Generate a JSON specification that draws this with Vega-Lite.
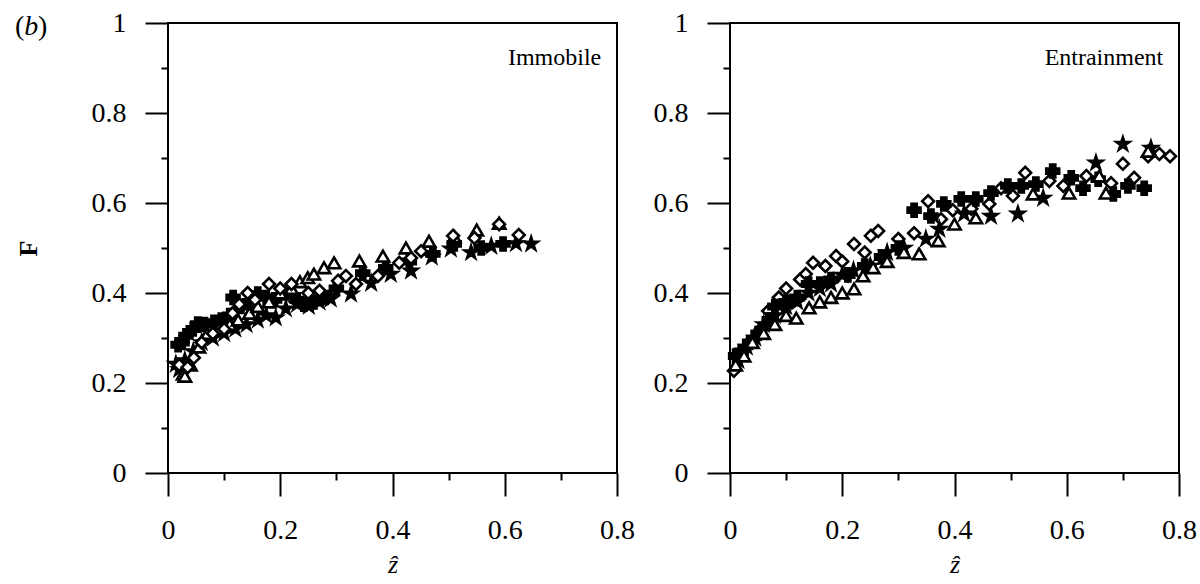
{
  "$schema": "https://vega.github.io/schema/vega-lite/v6.json",
  "background": "white",
  "padding": {"left": 14, "top": 8, "right": 2, "bottom": 0},
  "autosize": {"type": "pad"},
  "spacing": 113,
  "bounds": "flush",
  "config": {
    "view": {"stroke": "black", "strokeWidth": 2},
    "font": "Liberation Serif",
    "axis": {
      "domain": false,
      "grid": false,
      "tickColor": "black",
      "tickWidth": 2,
      "labelColor": "black",
      "labelFont": "Liberation Serif",
      "labelFontSize": 28,
      "labelFlush": false,
      "labelOverlap": false,
      "labelBound": false,
      "titleColor": "black",
      "titleFont": "Liberation Serif"
    }
  },
  "datasets": {
    "imm": [
      {"m": "plus", "z": 0.018, "F": 0.285}, {"m": "plus", "z": 0.025, "F": 0.29}, {"m": "plus", "z": 0.032, "F": 0.305}, {"m": "plus", "z": 0.045, "F": 0.32}, {"m": "plus", "z": 0.053, "F": 0.331}, {"m": "plus", "z": 0.065, "F": 0.33}, {"m": "plus", "z": 0.082, "F": 0.335}, {"m": "plus", "z": 0.095, "F": 0.34}, {"m": "plus", "z": 0.11, "F": 0.35}, {"m": "plus", "z": 0.116, "F": 0.39}, {"m": "plus", "z": 0.13, "F": 0.37}, {"m": "plus", "z": 0.145, "F": 0.38}, {"m": "plus", "z": 0.16, "F": 0.398}, {"m": "plus", "z": 0.175, "F": 0.39}, {"m": "plus", "z": 0.19, "F": 0.385}, {"m": "plus", "z": 0.21, "F": 0.40}, {"m": "plus", "z": 0.23, "F": 0.385}, {"m": "plus", "z": 0.242, "F": 0.375}, {"m": "plus", "z": 0.26, "F": 0.38}, {"m": "plus", "z": 0.28, "F": 0.39}, {"m": "plus", "z": 0.30, "F": 0.41}, {"m": "plus", "z": 0.347, "F": 0.444}, {"m": "plus", "z": 0.388, "F": 0.456}, {"m": "plus", "z": 0.43, "F": 0.47}, {"m": "plus", "z": 0.472, "F": 0.487}, {"m": "plus", "z": 0.51, "F": 0.509}, {"m": "plus", "z": 0.558, "F": 0.50}, {"m": "plus", "z": 0.597, "F": 0.509},
      {"m": "star", "z": 0.014, "F": 0.242}, {"m": "star", "z": 0.02, "F": 0.23}, {"m": "star", "z": 0.03, "F": 0.25}, {"m": "star", "z": 0.045, "F": 0.27}, {"m": "star", "z": 0.06, "F": 0.29}, {"m": "star", "z": 0.08, "F": 0.30}, {"m": "star", "z": 0.10, "F": 0.31}, {"m": "star", "z": 0.12, "F": 0.32}, {"m": "star", "z": 0.14, "F": 0.33}, {"m": "star", "z": 0.16, "F": 0.34}, {"m": "star", "z": 0.175, "F": 0.35}, {"m": "star", "z": 0.192, "F": 0.345}, {"m": "star", "z": 0.21, "F": 0.365}, {"m": "star", "z": 0.23, "F": 0.375}, {"m": "star", "z": 0.251, "F": 0.371}, {"m": "star", "z": 0.27, "F": 0.38}, {"m": "star", "z": 0.29, "F": 0.387}, {"m": "star", "z": 0.326, "F": 0.398}, {"m": "star", "z": 0.362, "F": 0.422}, {"m": "star", "z": 0.397, "F": 0.442}, {"m": "star", "z": 0.433, "F": 0.449}, {"m": "star", "z": 0.47, "F": 0.48}, {"m": "star", "z": 0.504, "F": 0.498}, {"m": "star", "z": 0.54, "F": 0.49}, {"m": "star", "z": 0.576, "F": 0.504}, {"m": "star", "z": 0.62, "F": 0.51}, {"m": "star", "z": 0.647, "F": 0.509},
      {"m": "triangle", "z": 0.027, "F": 0.22}, {"m": "triangle", "z": 0.03, "F": 0.215}, {"m": "triangle", "z": 0.04, "F": 0.24}, {"m": "triangle", "z": 0.055, "F": 0.28}, {"m": "triangle", "z": 0.07, "F": 0.31}, {"m": "triangle", "z": 0.09, "F": 0.32}, {"m": "triangle", "z": 0.11, "F": 0.33}, {"m": "triangle", "z": 0.125, "F": 0.34}, {"m": "triangle", "z": 0.145, "F": 0.355}, {"m": "triangle", "z": 0.16, "F": 0.37}, {"m": "triangle", "z": 0.18, "F": 0.38}, {"m": "triangle", "z": 0.20, "F": 0.40}, {"m": "triangle", "z": 0.22, "F": 0.41}, {"m": "triangle", "z": 0.235, "F": 0.425}, {"m": "triangle", "z": 0.249, "F": 0.434}, {"m": "triangle", "z": 0.26, "F": 0.442}, {"m": "triangle", "z": 0.278, "F": 0.456}, {"m": "triangle", "z": 0.296, "F": 0.467}, {"m": "triangle", "z": 0.341, "F": 0.471}, {"m": "triangle", "z": 0.383, "F": 0.482}, {"m": "triangle", "z": 0.424, "F": 0.50}, {"m": "triangle", "z": 0.465, "F": 0.515}, {"m": "triangle", "z": 0.51, "F": 0.525}, {"m": "triangle", "z": 0.55, "F": 0.54}, {"m": "triangle", "z": 0.59, "F": 0.555},
      {"m": "diamond", "z": 0.02, "F": 0.24}, {"m": "diamond", "z": 0.035, "F": 0.235}, {"m": "diamond", "z": 0.046, "F": 0.256}, {"m": "diamond", "z": 0.06, "F": 0.29}, {"m": "diamond", "z": 0.08, "F": 0.31}, {"m": "diamond", "z": 0.10, "F": 0.32}, {"m": "diamond", "z": 0.115, "F": 0.355}, {"m": "diamond", "z": 0.127, "F": 0.375}, {"m": "diamond", "z": 0.142, "F": 0.40}, {"m": "diamond", "z": 0.155, "F": 0.385}, {"m": "diamond", "z": 0.18, "F": 0.42}, {"m": "diamond", "z": 0.20, "F": 0.41}, {"m": "diamond", "z": 0.22, "F": 0.42}, {"m": "diamond", "z": 0.25, "F": 0.40}, {"m": "diamond", "z": 0.27, "F": 0.405}, {"m": "diamond", "z": 0.303, "F": 0.427}, {"m": "diamond", "z": 0.317, "F": 0.438}, {"m": "diamond", "z": 0.335, "F": 0.42}, {"m": "diamond", "z": 0.374, "F": 0.438}, {"m": "diamond", "z": 0.412, "F": 0.467}, {"m": "diamond", "z": 0.433, "F": 0.478}, {"m": "diamond", "z": 0.451, "F": 0.493}, {"m": "diamond", "z": 0.508, "F": 0.527}, {"m": "diamond", "z": 0.546, "F": 0.522}, {"m": "diamond", "z": 0.59, "F": 0.553}, {"m": "diamond", "z": 0.625, "F": 0.529}
    ],
    "ent": [
      {"m": "diamond", "z": 0.007, "F": 0.227}, {"m": "diamond", "z": 0.02, "F": 0.26}, {"m": "diamond", "z": 0.035, "F": 0.29}, {"m": "diamond", "z": 0.055, "F": 0.32}, {"m": "diamond", "z": 0.068, "F": 0.36}, {"m": "diamond", "z": 0.087, "F": 0.39}, {"m": "diamond", "z": 0.10, "F": 0.41}, {"m": "diamond", "z": 0.109, "F": 0.38}, {"m": "diamond", "z": 0.125, "F": 0.43}, {"m": "diamond", "z": 0.135, "F": 0.442}, {"m": "diamond", "z": 0.148, "F": 0.467}, {"m": "diamond", "z": 0.17, "F": 0.46}, {"m": "diamond", "z": 0.189, "F": 0.482}, {"m": "diamond", "z": 0.20, "F": 0.47}, {"m": "diamond", "z": 0.221, "F": 0.509}, {"m": "diamond", "z": 0.24, "F": 0.49}, {"m": "diamond", "z": 0.251, "F": 0.527}, {"m": "diamond", "z": 0.264, "F": 0.538}, {"m": "diamond", "z": 0.30, "F": 0.52}, {"m": "diamond", "z": 0.328, "F": 0.533}, {"m": "diamond", "z": 0.353, "F": 0.604}, {"m": "diamond", "z": 0.376, "F": 0.564}, {"m": "diamond", "z": 0.397, "F": 0.584}, {"m": "diamond", "z": 0.43, "F": 0.587}, {"m": "diamond", "z": 0.462, "F": 0.598}, {"m": "diamond", "z": 0.483, "F": 0.633}, {"m": "diamond", "z": 0.504, "F": 0.616}, {"m": "diamond", "z": 0.526, "F": 0.667}, {"m": "diamond", "z": 0.569, "F": 0.649}, {"m": "diamond", "z": 0.594, "F": 0.638}, {"m": "diamond", "z": 0.635, "F": 0.66}, {"m": "diamond", "z": 0.679, "F": 0.644}, {"m": "diamond", "z": 0.70, "F": 0.687}, {"m": "diamond", "z": 0.72, "F": 0.656}, {"m": "diamond", "z": 0.745, "F": 0.704}, {"m": "diamond", "z": 0.765, "F": 0.709}, {"m": "diamond", "z": 0.784, "F": 0.704},
      {"m": "plus", "z": 0.01, "F": 0.26}, {"m": "plus", "z": 0.02, "F": 0.27}, {"m": "plus", "z": 0.035, "F": 0.29}, {"m": "plus", "z": 0.05, "F": 0.31}, {"m": "plus", "z": 0.07, "F": 0.34}, {"m": "plus", "z": 0.08, "F": 0.37}, {"m": "plus", "z": 0.10, "F": 0.38}, {"m": "plus", "z": 0.12, "F": 0.39}, {"m": "plus", "z": 0.14, "F": 0.42}, {"m": "plus", "z": 0.16, "F": 0.42}, {"m": "plus", "z": 0.18, "F": 0.43}, {"m": "plus", "z": 0.21, "F": 0.44}, {"m": "plus", "z": 0.24, "F": 0.46}, {"m": "plus", "z": 0.27, "F": 0.48}, {"m": "plus", "z": 0.30, "F": 0.50}, {"m": "plus", "z": 0.328, "F": 0.584}, {"m": "plus", "z": 0.358, "F": 0.571}, {"m": "plus", "z": 0.381, "F": 0.598}, {"m": "plus", "z": 0.412, "F": 0.609}, {"m": "plus", "z": 0.438, "F": 0.609}, {"m": "plus", "z": 0.465, "F": 0.622}, {"m": "plus", "z": 0.495, "F": 0.638}, {"m": "plus", "z": 0.519, "F": 0.638}, {"m": "plus", "z": 0.545, "F": 0.642}, {"m": "plus", "z": 0.575, "F": 0.671}, {"m": "plus", "z": 0.608, "F": 0.656}, {"m": "plus", "z": 0.629, "F": 0.633}, {"m": "plus", "z": 0.656, "F": 0.653}, {"m": "plus", "z": 0.683, "F": 0.62}, {"m": "plus", "z": 0.709, "F": 0.638}, {"m": "plus", "z": 0.738, "F": 0.633},
      {"m": "star", "z": 0.015, "F": 0.25}, {"m": "star", "z": 0.03, "F": 0.28}, {"m": "star", "z": 0.045, "F": 0.30}, {"m": "star", "z": 0.06, "F": 0.33}, {"m": "star", "z": 0.08, "F": 0.35}, {"m": "star", "z": 0.10, "F": 0.37}, {"m": "star", "z": 0.12, "F": 0.38}, {"m": "star", "z": 0.14, "F": 0.40}, {"m": "star", "z": 0.16, "F": 0.41}, {"m": "star", "z": 0.18, "F": 0.42}, {"m": "star", "z": 0.20, "F": 0.44}, {"m": "star", "z": 0.22, "F": 0.45}, {"m": "star", "z": 0.25, "F": 0.46}, {"m": "star", "z": 0.28, "F": 0.49}, {"m": "star", "z": 0.31, "F": 0.50}, {"m": "star", "z": 0.349, "F": 0.52}, {"m": "star", "z": 0.373, "F": 0.542}, {"m": "star", "z": 0.417, "F": 0.576}, {"m": "star", "z": 0.465, "F": 0.571}, {"m": "star", "z": 0.513, "F": 0.576}, {"m": "star", "z": 0.558, "F": 0.611}, {"m": "star", "z": 0.652, "F": 0.689}, {"m": "star", "z": 0.70, "F": 0.731}, {"m": "star", "z": 0.75, "F": 0.722},
      {"m": "triangle", "z": 0.01, "F": 0.24}, {"m": "triangle", "z": 0.025, "F": 0.26}, {"m": "triangle", "z": 0.04, "F": 0.29}, {"m": "triangle", "z": 0.06, "F": 0.31}, {"m": "triangle", "z": 0.08, "F": 0.33}, {"m": "triangle", "z": 0.10, "F": 0.35}, {"m": "triangle", "z": 0.118, "F": 0.344}, {"m": "triangle", "z": 0.141, "F": 0.367}, {"m": "triangle", "z": 0.16, "F": 0.38}, {"m": "triangle", "z": 0.18, "F": 0.39}, {"m": "triangle", "z": 0.20, "F": 0.40}, {"m": "triangle", "z": 0.221, "F": 0.409}, {"m": "triangle", "z": 0.237, "F": 0.438}, {"m": "triangle", "z": 0.255, "F": 0.456}, {"m": "triangle", "z": 0.28, "F": 0.47}, {"m": "triangle", "z": 0.31, "F": 0.49}, {"m": "triangle", "z": 0.337, "F": 0.487}, {"m": "triangle", "z": 0.371, "F": 0.516}, {"m": "triangle", "z": 0.40, "F": 0.553}, {"m": "triangle", "z": 0.438, "F": 0.567}, {"m": "triangle", "z": 0.54, "F": 0.62}, {"m": "triangle", "z": 0.604, "F": 0.622}, {"m": "triangle", "z": 0.658, "F": 0.66}, {"m": "triangle", "z": 0.67, "F": 0.622}, {"m": "triangle", "z": 0.745, "F": 0.715}
    ]
  },
  "hconcat": [
    {
      "width": 449,
      "height": 450,
      "layer": [
        {
          "data": {"name": "imm"},
          "mark": {"type": "point", "filled": true, "stroke": "black", "opacity": 1},
          "encoding": {
            "x": {"field": "z", "type": "quantitative", "scale": {"domain": [0, 0.8], "nice": false, "zero": false},
              "axis": {"values": [0, 0.1, 0.2, 0.3, 0.4, 0.5, 0.6, 0.7, 0.8], "format": "~g",
                "labelExpr": "round(datum.value*10) % 2 == 1 ? '' : datum.label",
                "tickSize": {"condition": {"test": "round(datum.value*10) % 2 == 1", "value": 7}, "value": 23},
                "labelPadding": 20, "title": "ẑ", "titleFontSize": 26, "titleFontStyle": "italic", "titleFontWeight": "normal", "titlePadding": 7}},
            "y": {"field": "F", "type": "quantitative", "scale": {"domain": [0, 1], "nice": false, "zero": false},
              "axis": {"values": [0, 0.1, 0.2, 0.3, 0.4, 0.5, 0.6, 0.7, 0.8, 0.9, 1], "format": "~g",
                "labelExpr": "round(datum.value*10) % 2 == 1 ? '' : datum.label",
                "tickSize": {"condition": {"test": "round(datum.value*10) % 2 == 1", "value": 7}, "value": 23},
                "labelPadding": 19, "title": "F", "titleFontSize": 26, "titleFontWeight": "bold", "titlePadding": 50}},
            "shape": {"field": "m", "type": "nominal", "scale": {"domain": ["diamond", "triangle", "plus", "star"], "range": ["diamond", "triangle-up", "cross", "M0,-1L0.2245,-0.309L0.951,-0.309L0.363,0.118L0.588,0.809L0,0.382L-0.588,0.809L-0.363,0.118L-0.951,-0.309L-0.2245,-0.309Z"]}, "legend": null},
            "fill": {"field": "m", "type": "nominal", "scale": {"domain": ["diamond", "triangle", "plus", "star"], "range": ["white", "white", "black", "black"]}, "legend": null},
            "size": {"field": "m", "type": "nominal", "scale": {"domain": ["diamond", "triangle", "plus", "star"], "range": [140, 180, 256, 280]}, "legend": null},
            "strokeWidth": {"field": "m", "type": "nominal", "scale": {"domain": ["diamond", "triangle", "plus", "star"], "range": [2.6, 2.6, 1, 1]}, "legend": null}
          }
        },
        {
          "data": {"values": [{"t": "Immobile"}]},
          "mark": {"type": "text", "align": "right", "baseline": "middle", "fontSize": 24, "font": "Liberation Serif", "color": "black"},
          "encoding": {"text": {"field": "t"}, "x": {"datum": 0.772, "type": "quantitative"}, "y": {"datum": 0.922, "type": "quantitative"}}
        },
        {
          "data": {"values": [{"t": "("}]},
          "mark": {"type": "text", "align": "left", "baseline": "middle", "fontSize": 28, "font": "Liberation Serif", "color": "black"},
          "encoding": {"text": {"field": "t"}, "x": {"datum": -0.2726, "type": "quantitative"}, "y": {"datum": 0.992, "type": "quantitative"}}
        },
        {
          "data": {"values": [{"t": "b"}]},
          "mark": {"type": "text", "align": "left", "baseline": "middle", "fontSize": 28, "fontStyle": "italic", "font": "Liberation Serif", "color": "black"},
          "encoding": {"text": {"field": "t"}, "x": {"datum": -0.256, "type": "quantitative"}, "y": {"datum": 0.992, "type": "quantitative"}}
        },
        {
          "data": {"values": [{"t": ")"}]},
          "mark": {"type": "text", "align": "left", "baseline": "middle", "fontSize": 28, "font": "Liberation Serif", "color": "black"},
          "encoding": {"text": {"field": "t"}, "x": {"datum": -0.2317, "type": "quantitative"}, "y": {"datum": 0.992, "type": "quantitative"}}
        }
      ]
    },
    {
      "width": 449,
      "height": 450,
      "layer": [
        {
          "data": {"name": "ent"},
          "mark": {"type": "point", "filled": true, "stroke": "black", "opacity": 1},
          "encoding": {
            "x": {"field": "z", "type": "quantitative", "scale": {"domain": [0, 0.8], "nice": false, "zero": false},
              "axis": {"values": [0, 0.1, 0.2, 0.3, 0.4, 0.5, 0.6, 0.7, 0.8], "format": "~g",
                "labelExpr": "round(datum.value*10) % 2 == 1 ? '' : datum.label",
                "tickSize": {"condition": {"test": "round(datum.value*10) % 2 == 1", "value": 7}, "value": 23},
                "labelPadding": 20, "title": "ẑ", "titleFontSize": 26, "titleFontStyle": "italic", "titleFontWeight": "normal", "titlePadding": 7}},
            "y": {"field": "F", "type": "quantitative", "scale": {"domain": [0, 1], "nice": false, "zero": false},
              "axis": {"values": [0, 0.1, 0.2, 0.3, 0.4, 0.5, 0.6, 0.7, 0.8, 0.9, 1], "format": "~g",
                "labelExpr": "round(datum.value*10) % 2 == 1 ? '' : datum.label",
                "tickSize": {"condition": {"test": "round(datum.value*10) % 2 == 1", "value": 7}, "value": 23},
                "labelPadding": 19, "title": null}},
            "shape": {"field": "m", "type": "nominal", "scale": {"domain": ["diamond", "triangle", "plus", "star"], "range": ["diamond", "triangle-up", "cross", "M0,-1L0.2245,-0.309L0.951,-0.309L0.363,0.118L0.588,0.809L0,0.382L-0.588,0.809L-0.363,0.118L-0.951,-0.309L-0.2245,-0.309Z"]}, "legend": null},
            "fill": {"field": "m", "type": "nominal", "scale": {"domain": ["diamond", "triangle", "plus", "star"], "range": ["white", "white", "black", "black"]}, "legend": null},
            "size": {"field": "m", "type": "nominal", "scale": {"domain": ["diamond", "triangle", "plus", "star"], "range": [140, 180, 256, 280]}, "legend": null},
            "strokeWidth": {"field": "m", "type": "nominal", "scale": {"domain": ["diamond", "triangle", "plus", "star"], "range": [2.6, 2.6, 1, 1]}, "legend": null}
          }
        },
        {
          "data": {"values": [{"t": "Entrainment"}]},
          "mark": {"type": "text", "align": "right", "baseline": "middle", "fontSize": 24, "font": "Liberation Serif", "color": "black"},
          "encoding": {"text": {"field": "t"}, "x": {"datum": 0.772, "type": "quantitative"}, "y": {"datum": 0.922, "type": "quantitative"}}
        }
      ]
    }
  ]
}
